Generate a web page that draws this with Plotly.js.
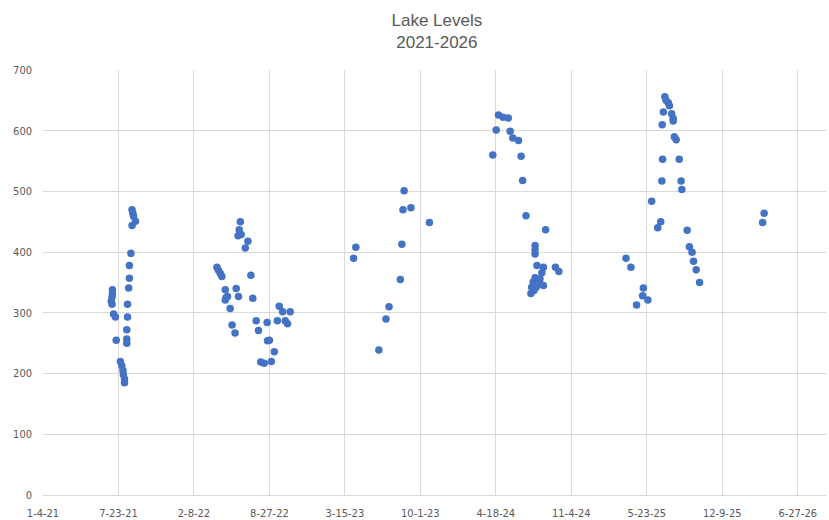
<!DOCTYPE html>
<html>
<head>
<meta charset="utf-8">
<script src="https://cdn.plot.ly/plotly-3.0.1.min.js"></script>
<style>html,body{margin:0;padding:0;background:#fff;}#chart{width:829px;height:520px;}</style>
</head>
<body>
<div id="chart"></div>
<script>
// Measurement dates and lake levels
const dates = [
  // 2021
  "2021-07-04","2021-07-06","2021-07-06","2021-07-07","2021-07-07","2021-07-10","2021-07-15","2021-07-17",
  "2021-07-28","2021-08-01","2021-08-04","2021-08-05","2021-08-08","2021-08-08",
  "2021-08-14","2021-08-14","2021-08-14","2021-08-16","2021-08-16","2021-08-19","2021-08-21","2021-08-21",
  "2021-08-25","2021-08-28","2021-08-28","2021-08-30","2021-09-01","2021-09-06",
  // 2022
  "2022-04-10","2022-04-14","2022-04-19","2022-04-23","2022-05-02","2022-05-02","2022-05-04","2022-05-08",
  "2022-05-15","2022-05-20","2022-05-28","2022-05-31","2022-06-05","2022-06-06","2022-06-08","2022-06-11",
  "2022-06-13","2022-06-24","2022-07-01","2022-07-09","2022-07-14","2022-07-23","2022-07-29","2022-08-04",
  "2022-08-13","2022-08-21","2022-08-22","2022-08-27","2022-09-01","2022-09-09","2022-09-17","2022-09-22",
  "2022-10-01","2022-10-08","2022-10-14","2022-10-21",
  // 2023
  "2023-04-07","2023-04-13","2023-06-13","2023-07-02","2023-07-10","2023-08-09","2023-08-13","2023-08-16",
  "2023-08-19","2023-09-06","2023-10-25",
  // 2024
  "2024-04-10","2024-04-19","2024-04-25","2024-05-07","2024-05-21","2024-05-26","2024-06-02","2024-06-17",
  "2024-06-24","2024-06-28","2024-07-07","2024-07-20","2024-07-22","2024-07-26","2024-07-28","2024-07-31",
  "2024-07-31","2024-07-31","2024-07-31","2024-08-03","2024-08-05","2024-08-13","2024-08-13","2024-08-18",
  "2024-08-22","2024-08-22","2024-08-28","2024-09-23","2024-10-02",
  // 2025
  "2025-03-29","2025-04-11","2025-04-26","2025-05-12","2025-05-14","2025-05-26","2025-06-05","2025-06-21",
  "2025-06-29","2025-07-02","2025-07-03","2025-07-04","2025-07-06","2025-07-10","2025-07-13","2025-07-19",
  "2025-07-22","2025-07-28","2025-08-01","2025-08-01","2025-08-04","2025-08-09","2025-08-17","2025-08-22",
  "2025-08-24","2025-09-07","2025-09-13","2025-09-20","2025-09-24","2025-10-01","2025-10-10",
  // 2026
  "2026-03-26","2026-03-30"
];
const levels = [
  319,326,314,338,331,298,293,255,
  220,213,205,198,191,185,
  272,257,250,314,293,341,378,357,
  398,470,444,464,459,451,
  375,370,365,360,338,321,325,327,
  307,280,267,340,427,327,437,450,
  429,407,418,362,324,287,271,219,
  217,284,254,255,220,236,287,311,
  302,287,282,302,
  390,408,239,290,310,355,413,470,
  501,473,449,
  560,601,626,622,621,599,588,584,
  558,518,460,332,342,351,337,411,
  404,397,358,342,378,356,348,366,
  375,345,437,375,368,
  390,375,313,328,341,321,484,440,
  450,517,610,553,631,656,650,646,
  641,628,620,616,590,585,553,517,
  503,436,409,400,385,371,350,
  449,464
];
const tickDates = ["2021-01-04","2021-07-23","2022-02-08","2022-08-27","2023-03-15","2023-10-01",
                   "2024-04-18","2024-11-04","2025-05-23","2025-12-09","2026-06-27"];
const tickLabels = ["1-4-21","7-23-21","2-8-22","8-27-22","3-15-23","10-1-23",
                    "4-18-24","11-4-24","5-23-25","12-9-25","6-27-26"];
const yTicks = [0,100,200,300,400,500,600,700];

const fontFam = "'Liberation Sans Narrow', 'DejaVu Sans Condensed', 'Liberation Sans', Arial, sans-serif";
const titleFam = "'Liberation Sans', Arial, sans-serif";
const trace = {
  x: dates, y: levels, type: "scatter", mode: "markers",
  marker: {color: "#4472C4", size: 7.5},
  hoverinfo: "x+y"
};
const layout = {
  width: 829, height: 520,
  margin: {l: 43, r: 3, t: 70, b: 25},
  paper_bgcolor: "#ffffff", plot_bgcolor: "#ffffff",
  showlegend: false,
  title: {text: "Lake Levels<br>2021-2026", x: 0.527, xanchor: "center", y: 0.95, yanchor: "top",
          font: {family: titleFam, size: 17, color: "#595959"}},
  xaxis: {
    type: "date", range: ["2021-01-04", "2026-09-10"],
    tickmode: "array", tickvals: tickDates, ticktext: tickLabels,
    showgrid: true, gridcolor: "#d9d9d9", gridwidth: 1,
    showline: true, linecolor: "#d9d9d9", linewidth: 1,
    zeroline: false, ticks: "",
    tickfont: {family: fontFam, size: 11, color: "#595959"},
    ticklabelstandoff: 8
  },
  yaxis: {
    range: [0, 700], tickmode: "array", tickvals: yTicks,
    showgrid: true, gridcolor: "#d9d9d9", gridwidth: 1,
    showline: false, zeroline: false, ticks: "",
    tickfont: {family: fontFam, size: 11, color: "#595959"},
    ticklabelstandoff: 10
  }
};
Plotly.newPlot("chart", [trace], layout, {displayModeBar: false, staticPlot: true});
</script>
</body>
</html>
